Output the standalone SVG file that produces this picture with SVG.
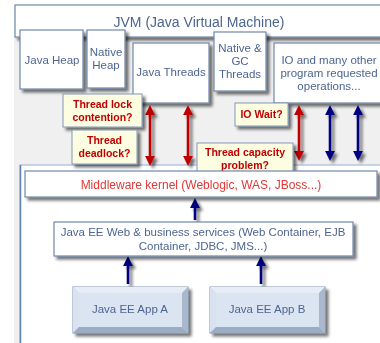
<svg xmlns="http://www.w3.org/2000/svg" width="380" height="343" viewBox="0 0 380 343">
  <defs>
    <filter id="shadow" filterUnits="userSpaceOnUse" x="0" y="0" width="400" height="360">
      <feGaussianBlur in="SourceAlpha" stdDeviation="1.5"/>
      <feOffset dx="2.5" dy="3" result="b"/>
      <feComponentTransfer><feFuncA type="linear" slope="0.55"/></feComponentTransfer>
      <feMerge><feMergeNode/><feMergeNode in="SourceGraphic"/></feMerge>
    </filter>
    <marker id="redHead" viewBox="0 0 10 10" refX="5" refY="5" markerWidth="3.8" markerHeight="4.2" orient="auto-start-reverse" markerUnits="strokeWidth">
      <path d="M0,0 L10,5 L0,10 z" fill="#c00000"/>
    </marker>
    <marker id="blueHead" viewBox="0 0 10 10" refX="5" refY="5" markerWidth="3.8" markerHeight="4.2" orient="auto-start-reverse" markerUnits="strokeWidth">
      <path d="M0,0 L10,5 L0,10 z" fill="#000080"/>
    </marker>
  </defs>
  <style>
    .box { fill: #ffffff; stroke: #6f88aa; stroke-width: 1.2; }
    .lbl { font-family: "Liberation Sans", Arial, sans-serif; font-size: 11.5px; fill: #4d6590; text-anchor: middle; }
    .note { fill: #fdfde1; stroke: #8198b8; stroke-width: 1; }
    .noteTxt { font-family: "Liberation Sans", Arial, sans-serif; font-size: 10.5px; font-weight: bold; fill: #c00000; text-anchor: middle; }
    .red { stroke: #c00000; stroke-width: 2.6; fill: none; }
    .blue { stroke: #000080; stroke-width: 2.6; fill: none; }
  </style>

  <!-- backdrop -->
  <rect x="14" y="5" width="366" height="338" fill="#f0f0f0"/>

  <g id="jvm" filter="url(#shadow)">
    <rect class="box" x="15" y="5" width="370" height="32"/>
    <text class="lbl" x="199" y="27" style="font-size:14px">JVM (Java Virtual Machine)</text>
  </g>

  <g id="java-heap" filter="url(#shadow)">
    <rect class="box" x="20" y="30" width="63" height="59"/>
    <text class="lbl" x="52" y="64">Java Heap</text>
  </g>
  <g id="native-heap" filter="url(#shadow)">
    <rect class="box" x="87" y="30" width="38" height="58"/>
    <text class="lbl" x="106" y="56">Native</text>
    <text class="lbl" x="106" y="69">Heap</text>
  </g>
  <g id="java-threads" filter="url(#shadow)">
    <rect class="box" x="133" y="43" width="76" height="60"/>
    <text class="lbl" x="171" y="76">Java Threads</text>
  </g>
  <g id="native-gc-threads" filter="url(#shadow)">
    <rect class="box" x="214" y="32" width="52" height="59"/>
    <text class="lbl" x="240" y="52">Native &amp;</text>
    <text class="lbl" x="240" y="65">GC</text>
    <text class="lbl" x="240" y="78">Threads</text>
  </g>
  <g id="io-operations" filter="url(#shadow)">
    <rect class="box" x="274" y="43" width="112" height="60"/>
    <text class="lbl" x="329" y="64">IO and many other</text>
    <text class="lbl" x="329" y="77">program requested</text>
    <text class="lbl" x="329" y="90">operations...</text>
  </g>

  <!-- runtime container -->
  <g id="container">
    <rect x="20" y="165" width="370" height="190" fill="#ffffff" stroke="#a9bbd2" stroke-width="1.2"/>
    <line x1="20.5" y1="165" x2="20.5" y2="343" stroke="#5f82b0" stroke-width="1.5"/>
  </g>

  <g id="connectors" filter="url(#shadow)">
    <line class="red" x1="150" y1="110" x2="150" y2="161" marker-start="url(#redHead)" marker-end="url(#redHead)"/>
    <line class="red" x1="188" y1="110" x2="188" y2="161" marker-start="url(#redHead)" marker-end="url(#redHead)"/>
    <line class="red" x1="299" y1="110" x2="299" y2="156" marker-start="url(#redHead)" marker-end="url(#redHead)"/>
    <line class="blue" x1="330" y1="110" x2="330" y2="156" marker-start="url(#blueHead)" marker-end="url(#blueHead)"/>
    <line class="blue" x1="358" y1="110" x2="358" y2="156" marker-start="url(#blueHead)" marker-end="url(#blueHead)"/>
    <line class="blue" x1="195" y1="220" x2="195" y2="203" marker-end="url(#blueHead)"/>
    <line class="blue" x1="128" y1="284" x2="128" y2="261" marker-end="url(#blueHead)"/>
    <line class="blue" x1="261" y1="284" x2="261" y2="261" marker-end="url(#blueHead)"/>
  </g>

  <g id="lock-contention" filter="url(#shadow)">
    <rect class="note" x="63" y="94" width="79" height="33"/>
    <text class="noteTxt" x="102.5" y="108">Thread lock</text>
    <text class="noteTxt" x="102.5" y="121">contention?</text>
  </g>
  <g id="deadlock" filter="url(#shadow)">
    <rect class="note" x="72" y="130" width="65" height="34"/>
    <text class="noteTxt" x="104.5" y="144">Thread</text>
    <text class="noteTxt" x="104.5" y="157">deadlock?</text>
  </g>
  <g id="io-wait" filter="url(#shadow)">
    <rect class="note" x="235" y="103" width="53" height="23"/>
    <text class="noteTxt" x="261.5" y="118">IO Wait?</text>
  </g>
  <g id="capacity" filter="url(#shadow)">
    <rect class="note" x="197" y="143" width="96" height="32"/>
    <text class="noteTxt" x="245" y="156">Thread capacity</text>
    <text class="noteTxt" x="245" y="169">problem?</text>
  </g>

  <g id="middleware" filter="url(#shadow)">
    <rect class="box" x="25" y="171" width="352" height="26"/>
    <text class="lbl" x="201" y="189" style="font-size:12px;fill:#e03838">Middleware kernel (Weblogic, WAS, JBoss...)</text>
  </g>

  <g id="javaee-services" filter="url(#shadow)">
    <rect class="box" x="54" y="222" width="299" height="34"/>
    <text class="lbl" x="203" y="236">Java EE Web &amp; business services (Web Container, EJB</text>
    <text class="lbl" x="203" y="250">Container, JDBC, JMS...)</text>
  </g>

  <g id="app-a" filter="url(#shadow)">
    <rect x="73" y="287" width="115" height="46" fill="#c9d6e8" stroke="#7f93ad" stroke-width="1"/>
    <polygon points="73,287 188,287 182,293 79,293" fill="#e6edf6"/>
    <polygon points="73,287 79,293 79,327 73,333" fill="#d9e3f0"/>
    <polygon points="188,287 188,333 182,327 182,293" fill="#a9b8cc"/>
    <polygon points="73,333 188,333 182,327 79,327" fill="#9badc4"/>
    <rect x="79" y="293" width="103" height="34" fill="#dbe5f2"/>
    <text class="lbl" x="130" y="313">Java EE App A</text>
  </g>
  <g id="app-b" filter="url(#shadow)">
    <rect x="210" y="287" width="115" height="46" fill="#c9d6e8" stroke="#7f93ad" stroke-width="1"/>
    <polygon points="210,287 325,287 319,293 216,293" fill="#e6edf6"/>
    <polygon points="210,287 216,293 216,327 210,333" fill="#d9e3f0"/>
    <polygon points="325,287 325,333 319,327 319,293" fill="#a9b8cc"/>
    <polygon points="210,333 325,333 319,327 216,327" fill="#9badc4"/>
    <rect x="216" y="293" width="103" height="34" fill="#dbe5f2"/>
    <text class="lbl" x="267" y="313">Java EE App B</text>
  </g>
</svg>
